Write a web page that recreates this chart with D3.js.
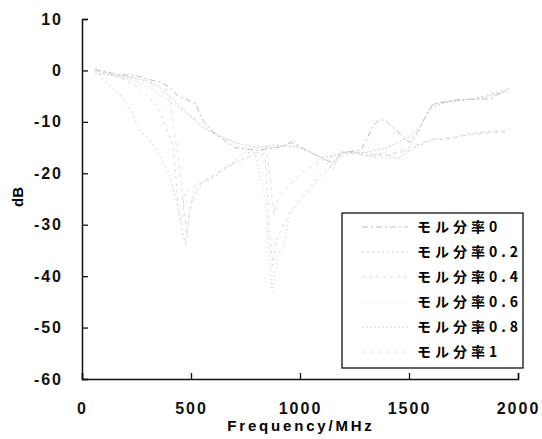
<!DOCTYPE html>
<html>
<head>
<meta charset="utf-8">
<script src="https://cdn.jsdelivr.net/npm/d3@7"></script>
<style>
  body { margin: 0; background: #fff; }
  svg { display: block; }
  .tick text { font-family: "Liberation Sans", Arial, sans-serif; font-weight: bold; font-size: 16px; letter-spacing: 2px; fill: #111; }
</style>
</head>
<body>
<svg id="chart"></svg>
<script>
/* Data: [frequency MHz, dB] */
const mf00 = [[60,0.3],[75,0],[110,-0.2],[160,-0.8],[250,-1],[310,-1.8],[360,-2.3],[405,-3.3],[440,-5],[520,-6.4],[555,-9.7],[600,-12],[650,-13.5],[700,-15],[800,-15.5],[900,-15],[960,-14],[1030,-15.5],[1100,-17],[1150,-18],[1190,-16],[1280,-15.5],[1340,-10.5],[1370,-9.5],[1400,-10],[1450,-12],[1500,-14],[1540,-12],[1575,-9],[1610,-6.5],[1680,-6],[1740,-5.6],[1800,-5.6],[1870,-5.5],[1960,-3.5]];
const mf02 = [[60,0],[100,-1.8],[180,-5],[230,-8],[250,-10.5],[270,-12],[300,-13],[350,-16],[400,-20],[430,-25],[460,-31],[475,-34],[490,-28],[510,-24],[540,-22],[600,-21],[690,-18],[740,-16],[810,-16],[850,-15],[930,-14.8],[965,-13.5],[1020,-15.4],[1100,-17],[1150,-19.3],[1185,-15.7],[1275,-16],[1310,-16.7],[1380,-16],[1450,-17.3],[1505,-14.8],[1540,-12],[1575,-9],[1610,-6.6],[1675,-6],[1800,-5.5],[1960,-3.5]];
const mf04 = [[60,0],[150,-1],[250,-3],[350,-7],[420,-15],[440,-26],[455,-30],[470,-24],[520,-22.5],[600,-20.5],[700,-18],[800,-16],[840,-17],[860,-31],[875,-38],[890,-33],[950,-28],[1000,-25],[1100,-20],[1160,-18],[1200,-16],[1300,-16.5],[1400,-16.5],[1500,-15.5],[1610,-13.4],[1700,-13.4],[1750,-12.5],[1840,-12],[1960,-11.7]];
const mf06 = [[60,0],[200,-1.5],[300,-3],[400,-6],[500,-9],[600,-12],[700,-14],[800,-17],[840,-25],[872,-43],[900,-36],[925,-34],[955,-27.6],[980,-26.5],[1050,-23],[1120,-20],[1170,-17],[1250,-16],[1350,-17],[1450,-17],[1550,-14.5],[1610,-13.4],[1700,-13],[1840,-12],[1960,-11.5]];
const mf08 = [[60,-0.5],[150,-1],[250,-1.5],[350,-3],[450,-7],[550,-11],[600,-12.2],[700,-14],[800,-15],[900,-14.5],[1000,-15],[1100,-17],[1200,-16],[1300,-16],[1400,-15],[1500,-13],[1550,-11],[1600,-7],[1700,-6],[1800,-5.6],[1960,-4]];
const mf10 = [[60,0],[200,-1.2],[300,-2],[400,-4],[450,-20],[480,-32],[500,-26],[550,-22],[650,-19],[750,-17],[850,-16],[880,-28],[900,-25],[1000,-20],[1100,-17.5],[1200,-16],[1300,-16],[1400,-16.5],[1500,-15],[1600,-13.5],[1700,-13],[1850,-12.2],[1960,-12]];

const seriesNames = ["モル分率0", "モル分率0.2", "モル分率0.4", "モル分率0.6", "モル分率0.8", "モル分率1"];
const seriesData = [mf00, mf02, mf04, mf06, mf08, mf10];
const xTicks = [0, 500, 1000, 1500, 2000];
const yTicks = [10, 0, -10, -20, -30, -40, -50, -60];

/* faint scanned-looking strokes */
const strokes = [
  { color: "#bdbdbd", dash: "6,3,2,3" },
  { color: "#d4d4d4", dash: "2,3" },
  { color: "#dcdcdc", dash: "3,4" },
  { color: "#c8c8c8", dash: "1,3" },
  { color: "#cccccc", dash: "2,2" },
  { color: "#e0e0e0", dash: "4,4" }
];

const width = 542, height = 439;
const svg = d3.select("#chart").attr("width", width).attr("height", height);

const x = d3.scaleLinear().domain([0, 2000]).range([82, 518]);
const y = d3.scaleLinear().domain([-60, 10]).range([379, 19]);

/* lines */
const line = d3.line().x(d => x(d[0])).y(d => y(d[1]));
svg.append("g").selectAll("path")
  .data(seriesData)
  .join("path")
    .attr("d", line)
    .attr("fill", "none")
    .attr("stroke", (d, i) => strokes[i].color)
    .attr("stroke-width", 1)
    .attr("stroke-dasharray", (d, i) => strokes[i].dash);

/* axes */
const yAxis = svg.append("g")
  .attr("transform", "translate(82,0)")
  .call(d3.axisLeft(y).tickValues(yTicks).tickSize(-6).tickPadding(19).tickFormat(d => d < 0 ? "-" + Math.abs(d) : d));
const xAxis = svg.append("g")
  .attr("transform", "translate(0,379)")
  .call(d3.axisBottom(x).tickValues(xTicks).tickSize(-6).tickPadding(24).tickFormat(d3.format("d")));
[xAxis, yAxis].forEach(g => {
  g.select(".domain").attr("stroke", "#111").attr("stroke-width", 1.5);
  g.selectAll(".tick line").attr("stroke", "#111").attr("stroke-width", 1.3);
});

/* axis titles */
svg.append("text")
  .attr("x", 301).attr("y", 431)
  .attr("text-anchor", "middle")
  .style("font-family", "Liberation Sans, Arial, sans-serif")
  .style("font-weight", "bold").style("font-size", "15px").style("letter-spacing", "2.8px")
  .text("Frequency/MHz");
svg.append("text")
  .attr("transform", "translate(23,197) rotate(-90)")
  .attr("text-anchor", "middle")
  .style("font-family", "Liberation Sans, Arial, sans-serif")
  .style("font-weight", "bold").style("font-size", "15px")
  .text("dB");

/* legend */
const legend = svg.append("g");
legend.append("rect")
  .attr("x", 342).attr("y", 213).attr("width", 181).attr("height", 155)
  .attr("fill", "#fff").attr("stroke", "#111").attr("stroke-width", 1.3);
const rows = legend.selectAll(".row")
  .data(seriesNames)
  .join("g")
    .attr("class", "row")
    .attr("transform", (d, i) => `translate(0,${227 + i * 25})`);
rows.append("line")
  .attr("x1", 362).attr("x2", 408)
  .attr("stroke", (d, i) => strokes[i].color)
  .attr("stroke-dasharray", (d, i) => strokes[i].dash);
rows.append("text")
  .attr("x", 417).attr("dy", "0.36em")
  .style("font-family", "Noto Sans CJK JP, sans-serif")
  .style("font-weight", "bold").style("font-size", "14px").style("letter-spacing", "4px")
  .text(d => d);
</script>
</body>
</html>
